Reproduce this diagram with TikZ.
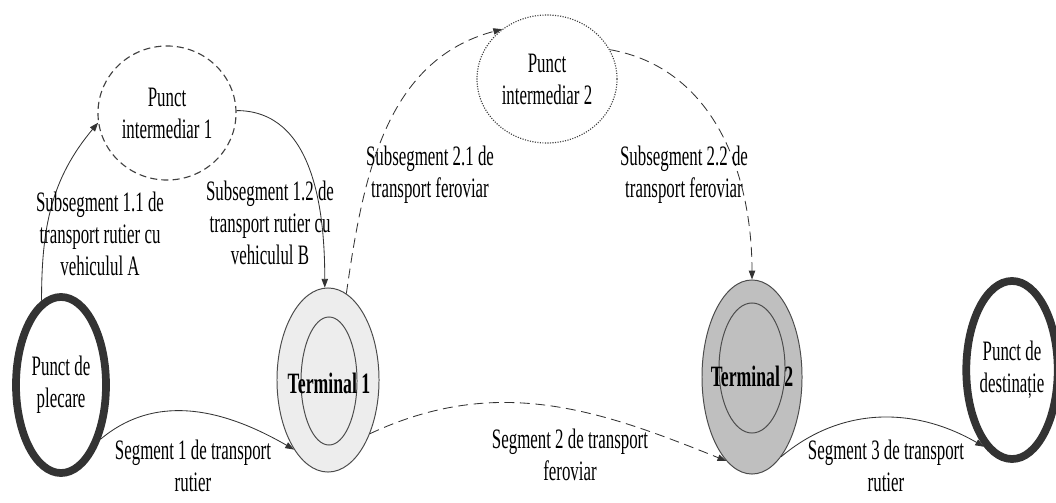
\documentclass[tikz,border=0pt]{standalone}
\usepackage{fontspec}
\setmainfont{Liberation Serif}[FakeStretch=0.6]
\usepackage{tikz}
\usetikzlibrary{positioning, arrows.meta, shapes, shapes.geometric, calc}

\begin{document}
\begin{tikzpicture}[x=0.025cm, y=0.025cm,
    every node/.style={align=center, inner sep=0pt, font=\fontsize{20}{22.8}\selectfont, text=black},
    endpoint/.style={draw=black!80, line width=5.5pt, ellipse, minimum width=2.25cm, minimum height=4.4cm},
    termout/.style={draw=black!70, ellipse, line width=0.7pt},
    intcircle/.style={draw=black!75, ellipse, line width=0.8pt},
    road/.style={draw=black!80, line width=0.6pt, -{Triangle[length=2.2mm, width=1.6mm]}},
    rail/.style={road, dash pattern=on 7pt off 4pt}]
    \useasboundingbox (0,0) rectangle (1056,502);

    % puncte de capat
    \node [endpoint] (plecare) at (61,117) {Punct de\\plecare};
    \node [endpoint, minimum width=1.95cm, minimum height=4.45cm] (dest) at (1012,132) {Punct de\\destinație};

    % terminale
    \node [termout, fill=black!7, minimum width=2.55cm, minimum height=4.6cm] (t1) at (328,122) {};
    \node [termout, minimum width=1.4cm, minimum height=3.2cm] (t1in) at (329,121) {};
    \node [font=\fontsize{21}{24}\selectfont\bfseries] at (329,119) {Terminal 1};
    \node [termout, fill=black!25, minimum width=2.5cm, minimum height=4.85cm] (t2) at (752,125) {};
    \node [termout, minimum width=1.65cm, minimum height=3.25cm] (t2in) at (752,134) {};
    \node [font=\fontsize{21}{24}\selectfont\bfseries] at (752,126) {Terminal 2};

    % puncte intermediare
    \node [intcircle, dashed, dash pattern=on 5pt off 3pt, minimum width=3.45cm, minimum height=3.35cm] (pi1) at (167,389) {Punct\\intermediar 1};
    \node [intcircle, densely dotted, minimum width=3.5cm, minimum height=3.2cm] (pi2) at (547,423) {Punct\\intermediar 2};

    % subsegmente
    \draw [road] (plecare.103) to[out=90, in=230] (pi1.188);
    \draw [road] (pi1.2) to[out=0, in=90] (t1.92);
    \draw [rail] (t1.78) to[out=82, in=195] (pi2.132);
    \draw [rail] (pi2.25) to[out=-10, in=90] (t2.90);

    % segmente
    \draw [road] (plecare.306) to[out=40, in=150] (t1.244);
    \draw [rail] (t1.308) to[out=25, in=158] (t2.253);
    \draw [road] (t2.290) to[out=40, in=150] (dest.250);

    \node (sub11) at (100,268) {Subsegment 1.1 de\\transport rutier cu\\vehiculul A};
    \node (sub12) at (270,279) {Subsegment 1.2 de\\transport rutier cu\\vehiculul B};
    \node (sub21) at (430,327) {Subsegment 2.1 de\\transport feroviar};
    \node (sub22) at (684,327) {Subsegment 2.2 de\\transport feroviar};
    \node (seg1) at (193,36) {Segment 1 de transport\\rutier};
    \node (seg2) at (570,47) {Segment 2 de transport\\feroviar};
    \node (seg3) at (886,36) {Segment 3 de transport\\rutier};
\end{tikzpicture}
\end{document}
